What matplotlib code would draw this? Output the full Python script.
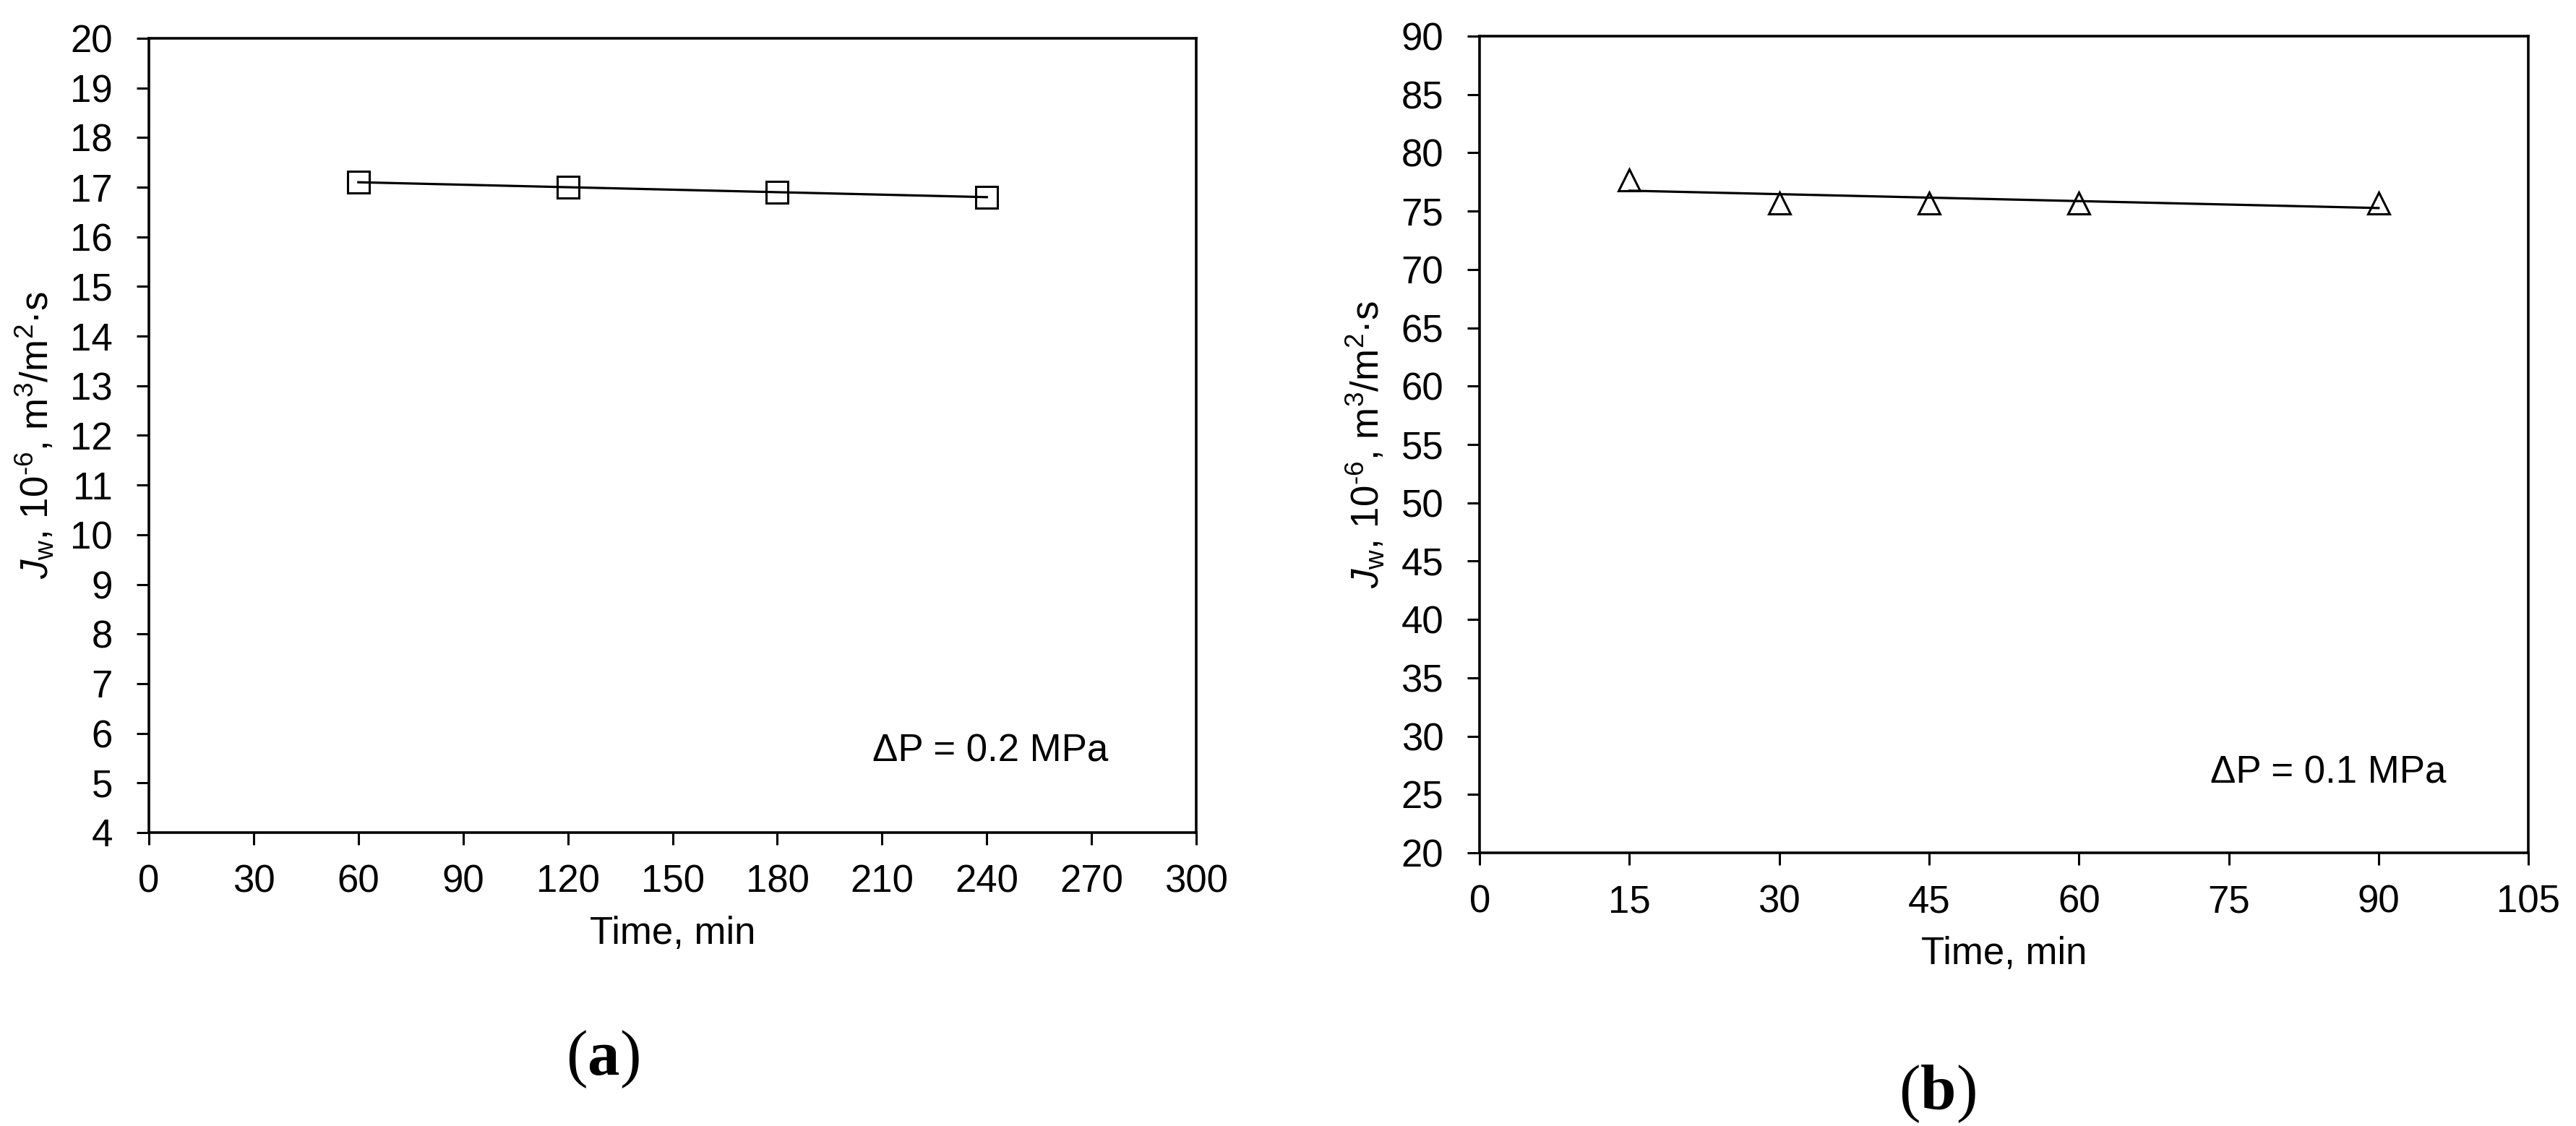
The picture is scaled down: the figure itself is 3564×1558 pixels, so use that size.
import numpy as np
import matplotlib
matplotlib.use('Agg')
import matplotlib.pyplot as plt

plt.rcParams['font.family'] = ['Liberation Sans', 'DejaVu Sans']
plt.rcParams['mathtext.fontset'] = 'custom'
plt.rcParams['mathtext.rm'] = 'Liberation Sans'
plt.rcParams['mathtext.it'] = 'Liberation Sans:italic'
plt.rcParams['mathtext.bf'] = 'Liberation Serif:bold'

# (a) dP = 0.2 MPa
time_a = [60, 120, 180, 240]
flux_a = [17.1, 17.0, 16.9, 16.8]
xticks_a = list(range(0, 301, 30))
yticks_a = list(range(4, 21, 1))

# (b) dP = 0.1 MPa
time_b = [15, 30, 45, 60, 90]
flux_b = [77.7, 75.7, 75.7, 75.7, 75.7]
xticks_b = list(range(0, 106, 15))
yticks_b = list(range(20, 91, 5))

ylabel = r'$\mathit{J}_{\mathrm{w}}$, 10$^{\text{-6}}$, m$^{3}$/m$^{2}$·s'
FS = 38

fig = plt.figure(figsize=(35.64, 15.58), dpi=100)
ax1 = fig.add_axes([0.0578, 0.2606, 0.4066, 0.7054])
ax2 = fig.add_axes([0.5744, 0.2426, 0.4071, 0.7253])


def draw(ax, t, j, marker, xticks, yticks, note, note_xy):
    # linear trend line, as in the original figure
    k, b = np.polyfit(t, j, 1)
    tt = np.array([min(t), max(t)])
    ax.plot(tt, k * tt + b, color='black', lw=2.3, zorder=2)
    ax.plot(t, j, linestyle='none', marker=marker, ms=21, mew=2.2,
            mfc='none', mec='black', zorder=3)
    ax.set_xlim(xticks[0], xticks[-1])
    ax.set_ylim(yticks[0], yticks[-1])
    ax.set_xticks(xticks)
    ax.set_yticks(yticks)
    for s in ax.spines.values():
        s.set_linewidth(2.6)
    ax.tick_params(direction='out', length=12, width=2.2, labelsize=FS)
    ax.tick_params(axis='y', pad=24)
    ax.tick_params(axis='x', pad=19)
    ax.set_xlabel('Time, min', fontsize=FS, labelpad=16)
    ax.set_ylabel(ylabel, fontsize=FS, labelpad=14)
    ax.text(note_xy[0], note_xy[1], note, fontsize=FS, ha='right', va='baseline')


draw(ax1, time_a, flux_a, 's', xticks_a, yticks_a, 'ΔP = 0.2 MPa', (274.7, 5.44))
draw(ax2, time_b, flux_b, '^', xticks_b, yticks_b, 'ΔP = 0.1 MPa', (96.8, 26.0))

fig.text(0.234, 0.0456, r'($\mathbf{a}$)', fontsize=64, family='Liberation Serif',
         ha='center', va='baseline')
fig.text(0.752, 0.0148, r'($\mathbf{b}$)', fontsize=64, family='Liberation Serif',
         ha='center', va='baseline')

fig.savefig('out.png', dpi=100)
